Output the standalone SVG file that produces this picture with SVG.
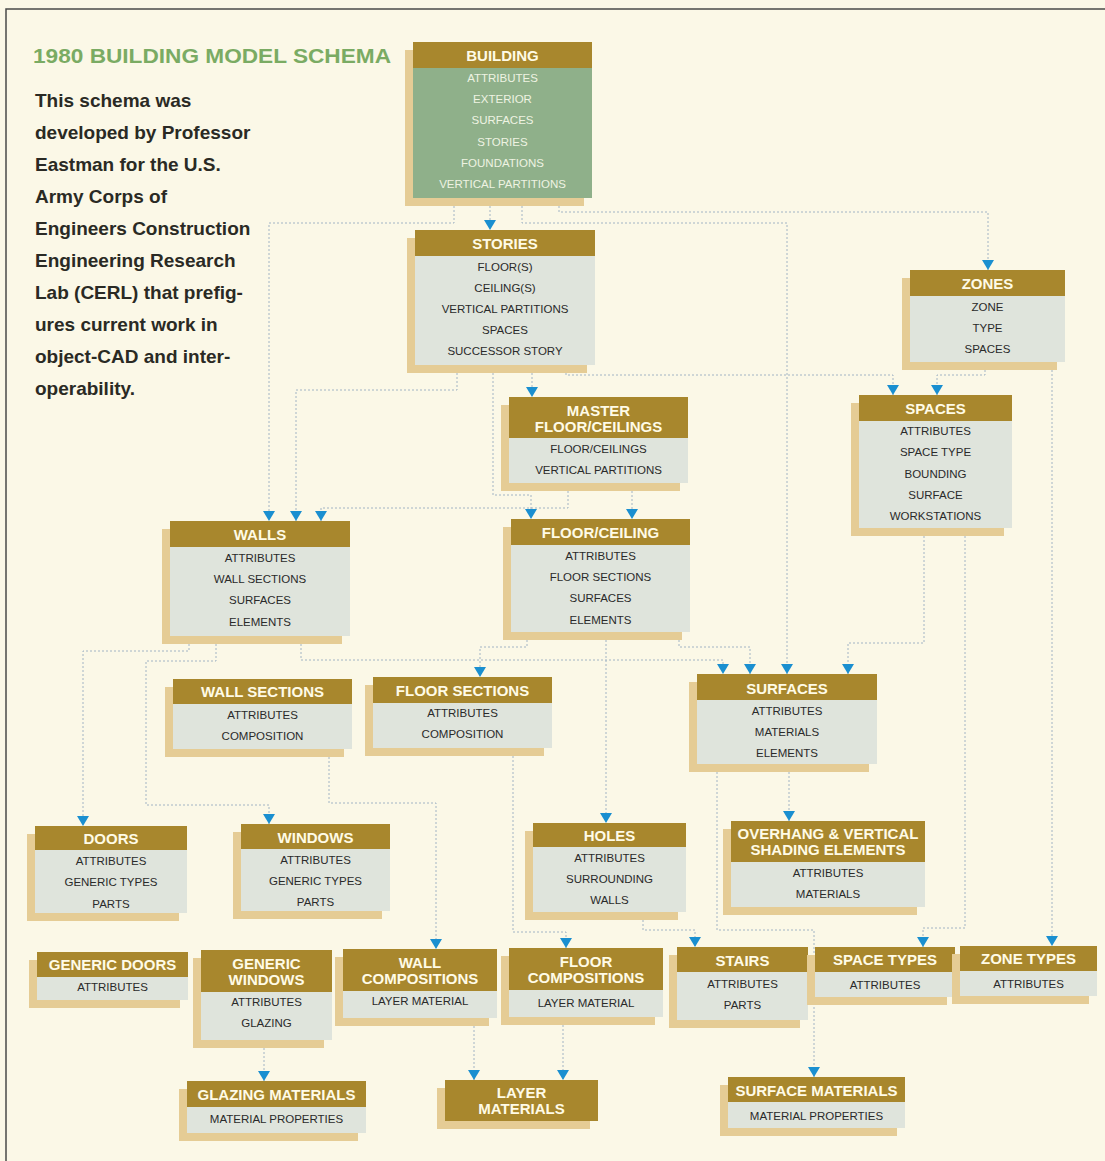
<svg xmlns="http://www.w3.org/2000/svg" width="1105" height="1161" viewBox="0 0 1105 1161">
<style>
.sh{fill:#e5cc95}
.hd{fill:#a8872d}
.bd{fill:#dfe4dc}
.bdg{fill:#8fb08a}
.ht{font-family:"Liberation Sans",Arial,sans-serif;font-weight:bold;font-size:15px;fill:#fffbe6;text-anchor:middle}
.bt{font-family:"Liberation Sans",Arial,sans-serif;font-size:11.5px;fill:#2a2a2a;text-anchor:middle}
.btg{font-family:"Liberation Sans",Arial,sans-serif;font-size:11.5px;fill:#eef3e2;text-anchor:middle}
.cn{fill:none;stroke:#a2b4c4;stroke-width:1;stroke-dasharray:2 2}
.para{font-family:"Liberation Sans",Arial,sans-serif;font-weight:bold;font-size:19px;fill:#2a2a24}
</style>
<defs>
<marker id="arr" markerUnits="userSpaceOnUse" markerWidth="12" markerHeight="12" refX="10" refY="6" orient="auto">
<path d="M0,0 L10,6 L0,12 Z" fill="#1a8fd0"/>
</marker>
</defs>
<rect x="0" y="0" width="1105" height="1161" fill="#fbf8e7"/>
<path d="M6,1161 V9 H1105" fill="none" stroke="#4a4a4a" stroke-width="1.5"/>

<g id="title">
<text x="33" y="63" font-family="'Liberation Sans',Arial,sans-serif" font-weight="bold" font-size="21" fill="#7aab63" textLength="358" lengthAdjust="spacingAndGlyphs">1980 BUILDING MODEL SCHEMA</text>
<text class="para" x="35" y="107">This schema was</text>
<text class="para" x="35" y="139">developed by Professor</text>
<text class="para" x="35" y="171">Eastman for the U.S.</text>
<text class="para" x="35" y="203">Army Corps of</text>
<text class="para" x="35" y="235">Engineers Construction</text>
<text class="para" x="35" y="267">Engineering Research</text>
<text class="para" x="35" y="299">Lab (CERL) that prefig-</text>
<text class="para" x="35" y="331">ures current work in</text>
<text class="para" x="35" y="363">object-CAD and inter-</text>
<text class="para" x="35" y="395">operability.</text>
</g>

<g id="connectors">
<path class="cn" marker-end="url(#arr)" d="M490,198 V230"/>
<path class="cn" marker-end="url(#arr)" d="M454,198 V223 H269 V521"/>
<path class="cn" marker-end="url(#arr)" d="M522,198 V223 H787 V674"/>
<path class="cn" marker-end="url(#arr)" d="M559,198 V212 H988 V270"/>
<path class="cn" marker-end="url(#arr)" d="M457,365 V390 H296 V521"/>
<path class="cn" marker-end="url(#arr)" d="M532,365 V397"/>
<path class="cn" marker-end="url(#arr)" d="M493,365 V495 H531 V519"/>
<path class="cn" marker-end="url(#arr)" d="M568,483 V508 H321 V521"/>
<path class="cn" marker-end="url(#arr)" d="M632,483 V519"/>
<path class="cn" marker-end="url(#arr)" d="M566,365 V375 H893 V395"/>
<path class="cn" marker-end="url(#arr)" d="M985,362 V375 H937 V395"/>
<path class="cn" marker-end="url(#arr)" d="M1052,362 V946"/>
<path class="cn" marker-end="url(#arr)" d="M189,636 V651 H83 V826"/>
<path class="cn" marker-end="url(#arr)" d="M216,636 V661 H146 V805 H269 V824"/>
<path class="cn" marker-end="url(#arr)" d="M301,636 V660 H723 V674"/>
<path class="cn" marker-end="url(#arr)" d="M527,632 V647 H480 V677"/>
<path class="cn" marker-end="url(#arr)" d="M606,632 V823"/>
<path class="cn" marker-end="url(#arr)" d="M679,632 V647 H750 V674"/>
<path class="cn" marker-end="url(#arr)" d="M924,528 V643 H848 V674"/>
<path class="cn" marker-end="url(#arr)" d="M965,528 V928 H923 V947"/>
<path class="cn" marker-end="url(#arr)" d="M789,764 V821"/>
<path class="cn" marker-end="url(#arr)" d="M717,764 V930 H814 V1077"/>
<path class="cn" marker-end="url(#arr)" d="M643,912 V930 H695 V947"/>
<path class="cn" marker-end="url(#arr)" d="M329,749 V803 H436 V949"/>
<path class="cn" marker-end="url(#arr)" d="M513,748 V932 H566 V948"/>
<path class="cn" marker-end="url(#arr)" d="M474,1018 V1080"/>
<path class="cn" marker-end="url(#arr)" d="M563,1017 V1080"/>
<path class="cn" marker-end="url(#arr)" d="M264,1040 V1081"/>
</g>

<g id="building">
<rect class="sh" x="405" y="50" width="179" height="156"/>
<rect class="bdg" x="413" y="68" width="179" height="130"/>
<rect class="hd" x="413" y="42" width="179" height="26"/>
<text class="ht" x="502.5" y="60.5">BUILDING</text>
<text class="btg" x="502.5" y="82">ATTRIBUTES</text>
<text class="btg" x="502.5" y="103">EXTERIOR</text>
<text class="btg" x="502.5" y="124">SURFACES</text>
<text class="btg" x="502.5" y="146">STORIES</text>
<text class="btg" x="502.5" y="167">FOUNDATIONS</text>
<text class="btg" x="502.5" y="188">VERTICAL PARTITIONS</text>
</g>

<g id="stories">
<rect class="sh" x="407" y="238" width="180" height="135"/>
<rect class="bd" x="415" y="256" width="180" height="109"/>
<rect class="hd" x="415" y="230" width="180" height="26"/>
<text class="ht" x="505" y="248.5">STORIES</text>
<text class="bt" x="505" y="271">FLOOR(S)</text>
<text class="bt" x="505" y="292">CEILING(S)</text>
<text class="bt" x="505" y="313">VERTICAL PARTITIONS</text>
<text class="bt" x="505" y="334">SPACES</text>
<text class="bt" x="505" y="355">SUCCESSOR STORY</text>
</g>

<g id="zones">
<rect class="sh" x="902" y="278" width="155" height="92"/>
<rect class="bd" x="910" y="296" width="155" height="66"/>
<rect class="hd" x="910" y="270" width="155" height="26"/>
<text class="ht" x="987.5" y="288.5">ZONES</text>
<text class="bt" x="987.5" y="311">ZONE</text>
<text class="bt" x="987.5" y="332">TYPE</text>
<text class="bt" x="987.5" y="353">SPACES</text>
</g>

<g id="spaces">
<rect class="sh" x="851" y="403" width="153" height="133"/>
<rect class="bd" x="859" y="421" width="153" height="107"/>
<rect class="hd" x="859" y="395" width="153" height="26"/>
<text class="ht" x="935.5" y="413.5">SPACES</text>
<text class="bt" x="935.5" y="435">ATTRIBUTES</text>
<text class="bt" x="935.5" y="456">SPACE TYPE</text>
<text class="bt" x="935.5" y="478">BOUNDING</text>
<text class="bt" x="935.5" y="499">SURFACE</text>
<text class="bt" x="935.5" y="520">WORKSTATIONS</text>
</g>

<g id="master-floor-ceilings">
<rect class="sh" x="501" y="405" width="179" height="86"/>
<rect class="bd" x="509" y="438" width="179" height="45"/>
<rect class="hd" x="509" y="397" width="179" height="41"/>
<text class="ht" x="598.5" y="415.5">MASTER</text>
<text class="ht" x="598.5" y="431.5">FLOOR/CEILINGS</text>
<text class="bt" x="598.5" y="453">FLOOR/CEILINGS</text>
<text class="bt" x="598.5" y="474">VERTICAL PARTITIONS</text>
</g>

<g id="walls">
<rect class="sh" x="162" y="529" width="180" height="115"/>
<rect class="bd" x="170" y="547" width="180" height="89"/>
<rect class="hd" x="170" y="521" width="180" height="26"/>
<text class="ht" x="260" y="539.5">WALLS</text>
<text class="bt" x="260" y="562">ATTRIBUTES</text>
<text class="bt" x="260" y="583">WALL SECTIONS</text>
<text class="bt" x="260" y="604">SURFACES</text>
<text class="bt" x="260" y="626">ELEMENTS</text>
</g>

<g id="floor-ceiling">
<rect class="sh" x="503" y="527" width="179" height="113"/>
<rect class="bd" x="511" y="545" width="179" height="87"/>
<rect class="hd" x="511" y="519" width="179" height="26"/>
<text class="ht" x="600.5" y="537.5">FLOOR/CEILING</text>
<text class="bt" x="600.5" y="560">ATTRIBUTES</text>
<text class="bt" x="600.5" y="581">FLOOR SECTIONS</text>
<text class="bt" x="600.5" y="602">SURFACES</text>
<text class="bt" x="600.5" y="624">ELEMENTS</text>
</g>

<g id="wall-sections">
<rect class="sh" x="165" y="687" width="179" height="70"/>
<rect class="bd" x="173" y="704" width="179" height="45"/>
<rect class="hd" x="173" y="679" width="179" height="25"/>
<text class="ht" x="262.5" y="696.5">WALL SECTIONS</text>
<text class="bt" x="262.5" y="719">ATTRIBUTES</text>
<text class="bt" x="262.5" y="740">COMPOSITION</text>
</g>

<g id="floor-sections">
<rect class="sh" x="365" y="685" width="179" height="71"/>
<rect class="bd" x="373" y="703" width="179" height="45"/>
<rect class="hd" x="373" y="677" width="179" height="26"/>
<text class="ht" x="462.5" y="695.5">FLOOR SECTIONS</text>
<text class="bt" x="462.5" y="717">ATTRIBUTES</text>
<text class="bt" x="462.5" y="738">COMPOSITION</text>
</g>

<g id="surfaces">
<rect class="sh" x="689" y="682" width="180" height="90"/>
<rect class="bd" x="697" y="700" width="180" height="64"/>
<rect class="hd" x="697" y="674" width="180" height="26"/>
<text class="ht" x="787" y="693.5">SURFACES</text>
<text class="bt" x="787" y="715">ATTRIBUTES</text>
<text class="bt" x="787" y="736">MATERIALS</text>
<text class="bt" x="787" y="757">ELEMENTS</text>
</g>

<g id="doors">
<rect class="sh" x="27" y="834" width="152" height="87"/>
<rect class="bd" x="35" y="850" width="152" height="63"/>
<rect class="hd" x="35" y="826" width="152" height="24"/>
<text class="ht" x="111" y="843.5">DOORS</text>
<text class="bt" x="111" y="865">ATTRIBUTES</text>
<text class="bt" x="111" y="886">GENERIC TYPES</text>
<text class="bt" x="111" y="908">PARTS</text>
</g>

<g id="windows">
<rect class="sh" x="233" y="832" width="149" height="87"/>
<rect class="bd" x="241" y="849" width="149" height="62"/>
<rect class="hd" x="241" y="824" width="149" height="25"/>
<text class="ht" x="315.5" y="842.5">WINDOWS</text>
<text class="bt" x="315.5" y="864">ATTRIBUTES</text>
<text class="bt" x="315.5" y="885">GENERIC TYPES</text>
<text class="bt" x="315.5" y="906">PARTS</text>
</g>

<g id="holes">
<rect class="sh" x="525" y="831" width="153" height="89"/>
<rect class="bd" x="533" y="847" width="153" height="65"/>
<rect class="hd" x="533" y="823" width="153" height="24"/>
<text class="ht" x="609.5" y="840.5">HOLES</text>
<text class="bt" x="609.5" y="862">ATTRIBUTES</text>
<text class="bt" x="609.5" y="883">SURROUNDING</text>
<text class="bt" x="609.5" y="904">WALLS</text>
</g>

<g id="overhang">
<rect class="sh" x="723" y="829" width="194" height="86"/>
<rect class="bd" x="731" y="862" width="194" height="45"/>
<rect class="hd" x="731" y="821" width="194" height="41"/>
<text class="ht" x="828" y="838.5">OVERHANG &amp; VERTICAL</text>
<text class="ht" x="828" y="854.5">SHADING ELEMENTS</text>
<text class="bt" x="828" y="877">ATTRIBUTES</text>
<text class="bt" x="828" y="898">MATERIALS</text>
</g>

<g id="generic-doors">
<rect class="sh" x="29" y="960" width="151" height="48"/>
<rect class="bd" x="37" y="977" width="151" height="23"/>
<rect class="hd" x="37" y="952" width="151" height="25"/>
<text class="ht" x="112.5" y="969.5">GENERIC DOORS</text>
<text class="bt" x="112.5" y="991">ATTRIBUTES</text>
</g>

<g id="generic-windows">
<rect class="sh" x="193" y="958" width="131" height="90"/>
<rect class="bd" x="201" y="992" width="131" height="48"/>
<rect class="hd" x="201" y="950" width="131" height="42"/>
<text class="ht" x="266.5" y="968.5">GENERIC</text>
<text class="ht" x="266.5" y="984.5">WINDOWS</text>
<text class="bt" x="266.5" y="1006">ATTRIBUTES</text>
<text class="bt" x="266.5" y="1027">GLAZING</text>
</g>

<g id="wall-compositions">
<rect class="sh" x="335" y="957" width="154" height="69"/>
<rect class="bd" x="343" y="991" width="154" height="27"/>
<rect class="hd" x="343" y="949" width="154" height="42"/>
<text class="ht" x="420" y="967.5">WALL</text>
<text class="ht" x="420" y="983.5">COMPOSITIONS</text>
<text class="bt" x="420" y="1005">LAYER MATERIAL</text>
</g>

<g id="floor-compositions">
<rect class="sh" x="501" y="956" width="154" height="69"/>
<rect class="bd" x="509" y="990" width="154" height="27"/>
<rect class="hd" x="509" y="948" width="154" height="42"/>
<text class="ht" x="586" y="966.5">FLOOR</text>
<text class="ht" x="586" y="982.5">COMPOSITIONS</text>
<text class="bt" x="586" y="1007">LAYER MATERIAL</text>
</g>

<g id="stairs">
<rect class="sh" x="669" y="955" width="131" height="73"/>
<rect class="bd" x="677" y="972" width="131" height="48"/>
<rect class="hd" x="677" y="947" width="131" height="25"/>
<text class="ht" x="742.5" y="965.5">STAIRS</text>
<text class="bt" x="742.5" y="988">ATTRIBUTES</text>
<text class="bt" x="742.5" y="1009">PARTS</text>
</g>

<g id="space-types">
<rect class="sh" x="807" y="955" width="140" height="50"/>
<rect class="bd" x="815" y="972" width="140" height="25"/>
<rect class="hd" x="815" y="947" width="140" height="25"/>
<text class="ht" x="885" y="964.5">SPACE TYPES</text>
<text class="bt" x="885" y="989">ATTRIBUTES</text>
</g>

<g id="zone-types">
<rect class="sh" x="952" y="954" width="137" height="50"/>
<rect class="bd" x="960" y="971" width="137" height="25"/>
<rect class="hd" x="960" y="946" width="137" height="25"/>
<text class="ht" x="1028.5" y="963.5">ZONE TYPES</text>
<text class="bt" x="1028.5" y="988">ATTRIBUTES</text>
</g>

<g id="glazing-materials">
<rect class="sh" x="179" y="1089" width="179" height="52"/>
<rect class="bd" x="187" y="1107" width="179" height="26"/>
<rect class="hd" x="187" y="1081" width="179" height="26"/>
<text class="ht" x="276.5" y="1099.5">GLAZING MATERIALS</text>
<text class="bt" x="276.5" y="1123">MATERIAL PROPERTIES</text>
</g>

<g id="layer-materials">
<rect class="sh" x="437" y="1088" width="153" height="41"/>
<rect class="hd" x="445" y="1080" width="153" height="41"/>
<text class="ht" x="521.5" y="1097.5">LAYER</text>
<text class="ht" x="521.5" y="1113.5">MATERIALS</text>
</g>

<g id="surface-materials">
<rect class="sh" x="720" y="1085" width="177" height="51"/>
<rect class="bd" x="728" y="1102" width="177" height="26"/>
<rect class="hd" x="728" y="1077" width="177" height="25"/>
<text class="ht" x="816.5" y="1095.5">SURFACE MATERIALS</text>
<text class="bt" x="816.5" y="1120">MATERIAL PROPERTIES</text>
</g>
</svg>
